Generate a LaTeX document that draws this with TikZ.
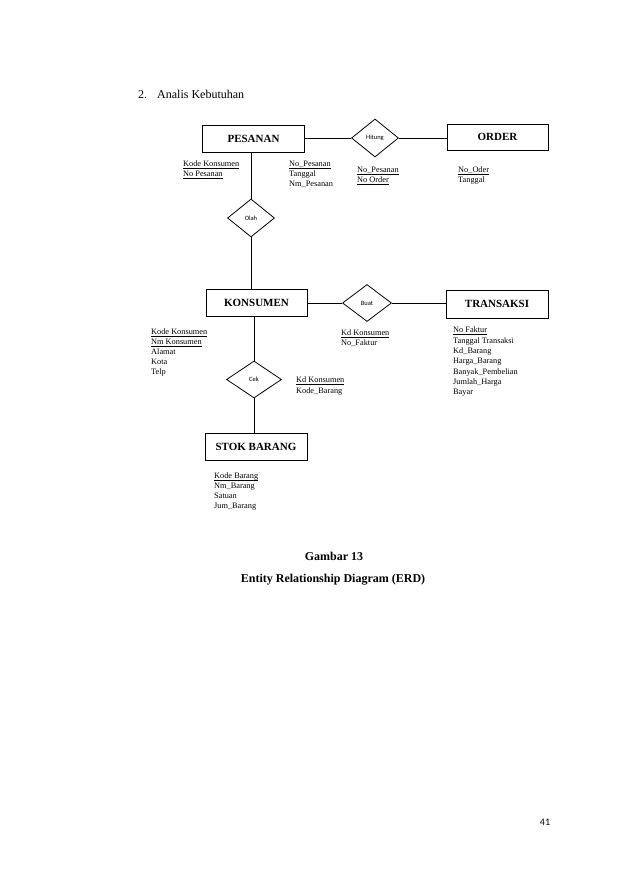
\documentclass[tikz,border=0pt]{standalone}
\usepackage{fontspec}
\setmainfont{Liberation Serif}
\newfontfamily\calibri{Carlito}
\usetikzlibrary{shapes.geometric}
% key attribute: underlined at a fixed depth
\newcommand\kunci[1]{\setbox0\hbox{#1}\rlap{\rule[-1.4pt]{\wd0}{0.4pt}}\box0}
\tikzset{
  entity/.style={draw,line width=0.9pt,minimum width=102,minimum height=27,inner sep=0,font=\fontsize{11}{13}\selectfont\bfseries},
  relation/.style={draw,diamond,line width=0.8pt,minimum width=47,minimum height=38,inner sep=0,font=\calibri\fontsize{6.5}{7}\selectfont},
  attr/.style={anchor=north west,inner sep=0,align=left,font=\fontsize{8.3}{10}\selectfont},
  link/.style={line width=0.8pt}
}
\begin{document}
\begin{tikzpicture}[x=1pt,y=-1pt]
\useasboundingbox (0,0) rectangle (639,882);
% heading
\node[anchor=base west,inner sep=0,font=\fontsize{12}{14}\selectfont] (nomor) at (138,99) {2.};
\node[anchor=base west,inner sep=0,font=\fontsize{12}{14}\selectfont] (judul) at (157,99) {Analis Kebutuhan};
% Pesanan - Hitung - Order
\node[entity] (pesanan) at (253.5,138.5) {PESANAN};
\node[relation] (hitung) at (375,138) {Hitung};
\node[entity,minimum width=101,minimum height=26] (order) at (497.5,137) {ORDER};
\draw[link] (pesanan.east |- hitung) -- (hitung.west);
\draw[link] (hitung.east) -- (order.west |- hitung);
\node[attr] (atrPesanan1) at (183,161) {\kunci{Kode Konsumen}\\\kunci{No Pesanan}};
\node[attr] (atrPesanan2) at (289,161) {\kunci{No\_Pesanan}\\Tanggal\\Nm\_Pesanan};
\node[attr] (atrHitung) at (357,167) {\kunci{No\_Pesanan}\\\kunci{No Order}};
\node[attr] (atrOrder) at (458,167) {\kunci{No\_Oder}\\Tanggal};
% Olah
\node[relation] (olah) at (251,218) {Olah};
% Konsumen - Buat - Transaksi
\node[entity,minimum width=101] (konsumen) at (256.5,302.5) {KONSUMEN};
\node[relation,minimum width=49,minimum height=37] (buat) at (367,303) {Buat};
\node[entity,minimum height=28] (transaksi) at (497,304) {TRANSAKSI};
\draw[link] (pesanan.south -| olah) -- (olah.north);
\draw[link] (olah.south) -- (olah.south |- konsumen.north);
\draw[link] (konsumen.east |- buat) -- (buat.west);
\draw[link] (buat.east) -- (transaksi.west |- buat);
\node[attr] (atrKonsumen) at (151,329) {\kunci{Kode Konsumen}\\\kunci{Nm Konsumen}\\Alamat\\Kota\\Telp};
\node[attr] (atrBuat) at (341,330) {\kunci{Kd Konsumen}\\No\_Faktur};
\node[attr,font=\fontsize{8.3}{10.3}\selectfont] (atrTransaksi) at (453,327) {\kunci{No Faktur}\\Tanggal Transaksi\\Kd\_Barang\\Harga\_Barang\\Banyak\_Pembelian\\Jumlah\_Harga\\Bayar};
% Cek - Stok Barang
\node[relation,minimum width=55,minimum height=37] (cek) at (254,379.5) {Cek};
\node[entity] (stok) at (256,446.5) {STOK BARANG};
\draw[link] (konsumen.south -| cek) -- (cek.north);
\draw[link] (cek.south) -- (cek.south |- stok.north);
\node[attr,font=\fontsize{8.3}{11}\selectfont] (atrCek) at (296,377) {\kunci{Kd Konsumen}\\Kode\_Barang};
\node[attr] (atrStok) at (214,473) {\kunci{Kode Barang}\\Nm\_Barang\\Satuan\\Jum\_Barang};
% caption
\node[font=\fontsize{12}{14}\selectfont\bfseries] (gambar) at (334,556) {Gambar 13};
\node[font=\fontsize{12}{14}\selectfont\bfseries] (caption) at (333,580) {Entity Relationship Diagram (ERD)};
% page number
\node[font=\calibri\fontsize{10}{12}\selectfont] (halaman) at (545,822) {41};
\end{tikzpicture}
\end{document}
